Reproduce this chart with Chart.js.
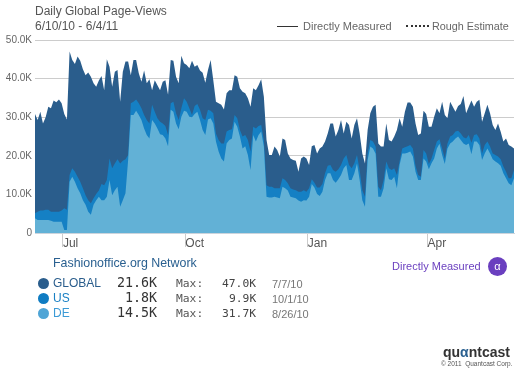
<!DOCTYPE html>
<html>
<head>
<meta charset="utf-8">
<script src="https://cdn.jsdelivr.net/npm/chart.js@4"></script>
<style>
html,body{margin:0;padding:0;background:#fff;}
#wrap{position:relative;width:522px;height:370px;overflow:hidden;font-family:"Liberation Sans",Arial,sans-serif;}
canvas{position:absolute;left:0;top:0;}
.t{position:absolute;white-space:nowrap;line-height:14px;}
.m{font-family:"DejaVu Sans Mono",monospace;}
.dot{position:absolute;border-radius:50%;width:11px;height:11px;}
</style>
</head>
<body>
<div id="wrap">
<canvas id="c" width="522" height="370"></canvas>
<div class="t" style="left:35px;top:4px;font-size:12px;color:#555;">Daily Global Page-Views</div>
<div class="t" style="left:35px;top:19px;font-size:12px;color:#555;">6/10/10 - 6/4/11</div>
<div style="position:absolute;left:277px;top:26px;width:21px;border-top:1px solid #333;"></div>
<div class="t" style="left:303px;top:19px;font-size:11px;color:#666;">Directly Measured</div>
<div style="position:absolute;left:406px;top:25px;width:23px;border-top:2px dotted #333;"></div>
<div class="t" style="left:432px;top:19px;font-size:10.8px;color:#666;">Rough Estimate</div>

<div class="t" style="left:53px;top:256px;font-size:12.4px;color:#2a6090;">Fashionoffice.org Network</div>

<div class="dot" style="left:38px;top:278px;background:#2a5d8c;"></div>
<div class="t" style="left:53px;top:276px;font-size:12px;color:#2a5d8c;">GLOBAL</div>
<div class="t m" style="left:117px;top:276px;font-size:13.3px;color:#333;">21.6K</div>
<div class="t m" style="left:176px;top:277px;font-size:11.3px;color:#555;">Max:</div>
<div class="t m" style="left:222px;top:277px;font-size:11.3px;color:#444;">47.0K</div>
<div class="t" style="left:272px;top:277px;font-size:11px;color:#777;">7/7/10</div>

<div class="dot" style="left:38px;top:293px;background:#0f7cc2;"></div>
<div class="t" style="left:53px;top:291px;font-size:12px;color:#1a80c4;">US</div>
<div class="t m" style="left:125px;top:291px;font-size:13.3px;color:#333;">1.8K</div>
<div class="t m" style="left:176px;top:292px;font-size:11.3px;color:#555;">Max:</div>
<div class="t m" style="left:229px;top:292px;font-size:11.3px;color:#444;">9.9K</div>
<div class="t" style="left:272px;top:292px;font-size:11px;color:#777;">10/1/10</div>

<div class="dot" style="left:38px;top:308px;background:#4fa5d6;"></div>
<div class="t" style="left:53px;top:306px;font-size:12px;color:#3b9ad6;">DE</div>
<div class="t m" style="left:117px;top:306px;font-size:13.3px;color:#333;">14.5K</div>
<div class="t m" style="left:176px;top:307px;font-size:11.3px;color:#555;">Max:</div>
<div class="t m" style="left:222px;top:307px;font-size:11.3px;color:#444;">31.7K</div>
<div class="t" style="left:272px;top:307px;font-size:11px;color:#777;">8/26/10</div>

<div class="t" style="left:392px;top:259px;font-size:11px;color:#6a3fbf;">Directly Measured</div>
<div style="position:absolute;left:488px;top:257px;width:19px;height:19px;border-radius:50%;background:#6a3fbf;color:#fff;font-size:11px;line-height:18px;text-align:center;">α</div>
<div class="t" style="left:443px;top:345px;font-size:14px;font-weight:bold;color:#333;">qu<span style="color:#2a6090;">α</span>ntcast</div>
<div class="t" style="left:441px;top:357px;font-size:6.5px;color:#555;">© 2011 &nbsp;Quantcast Corp.</div>
</div>
<script>
// Values in thousands of page-views, read every second day from 6/10/10.
const GLOBAL = [
30.8,29.3,31.4,28.4,30.0,32.7,32.3,34.3,33.9,34.6,33.6,30.8,29.4,47.0,44.8,43.8,45.7,44.6,42.4,40.9,41.6,40.5,38.8,37.9,39.5,40.7,37.0,45.0,43.1,37.9,41.8,42.2,34.0,41.8,44.4,44.4,40.9,44.8,44.8,41.4,39.2,42.1,38.8,39.8,37.0,39.6,
38.3,37.0,39.2,39.6,35.8,44.8,44.6,40.5,38.8,45.9,44.0,43.5,42.7,44.6,43.1,43.5,42.1,41.5,38.9,42.2,44.8,39.6,34.0,33.6,33.2,32.0,36.2,37.0,37.0,40.9,40.5,37.5,36.6,36.2,34.9,32.7,37.5,37.0,38.3,39.8,35.3,24.1,20.2,20.2,22.4,
21.5,19.8,24.5,24.1,20.6,19.3,18.9,18.7,15.9,19.3,19.8,19.3,17.6,22.5,22.8,20.6,21.9,22.4,23.7,25.8,28.4,28.4,25.0,26.7,29.3,25.8,28.8,28.0,24.5,28.0,29.7,25.8,20.6,18.0,26.7,31.0,32.7,33.2,23.2,22.4,22.4,28.4,24.1,23.7,25.0,
26.7,29.7,27.5,31.4,33.8,33.8,32.7,28.4,25.4,25.8,31.7,30.8,27.5,27.5,30.1,32.3,31.0,34.0,30.6,29.7,34.0,32.7,31.4,32.9,33.4,35.5,31.0,32.7,34.3,32.7,34.0,34.5,28.8,31.0,33.2,31.0,28.0,26.7,28.4,26.2,23.7,24.5,22.8,22.4,21.9];
// Upper edge of the US band, which sits on top of DE.
const US_ON_DE = [
5.1,5.5,5.8,5.8,6.0,6.0,5.5,5.5,5.5,5.5,5.8,6.4,6.0,15.0,16.8,15.9,14.6,13.3,11.6,9.8,8.5,7.7,9.0,10.1,11.0,12.7,12.4,13.7,19.3,16.8,18.0,19.1,18.0,18.7,19.1,20.2,33.6,34.0,34.6,33.6,32.3,30.6,29.3,28.4,33.2,31.4,
29.7,28.8,28.4,27.7,25.4,33.6,34.0,31.0,29.3,32.3,34.9,34.0,32.3,30.6,32.9,33.4,31.9,29.7,29.3,31.9,31.7,31.0,25.8,24.1,23.2,23.2,26.3,26.7,26.9,30.6,29.7,26.7,25.0,25.4,24.1,21.1,27.5,27.1,27.7,28.0,24.1,12.4,12.0,12.0,11.6,
11.6,11.6,14.2,13.7,12.9,11.6,11.3,11.1,10.7,10.7,11.1,10.7,11.6,13.9,13.0,11.8,11.8,12.7,15.5,17.4,17.6,16.3,15.9,16.5,17.6,19.3,20.2,17.6,16.8,18.1,20.2,16.3,11.1,9.4,20.6,24.1,23.7,22.4,12.0,11.1,13.7,18.5,16.8,16.3,16.8,
15.0,18.5,21.9,22.2,22.5,22.8,21.9,17.4,15.0,14.6,21.5,20.6,17.9,19.3,21.5,23.7,24.3,21.9,19.3,23.2,25.0,25.4,26.3,26.5,25.8,24.8,24.5,25.4,23.4,25.4,25.6,24.5,20.6,22.8,23.7,22.4,20.6,20.2,19.8,19.1,17.2,15.9,14.2,14.2,16.3];
const DE = [
3.8,3.4,3.4,3.4,3.4,3.4,3.2,2.9,2.9,2.9,2.9,0.8,0.8,13.3,14.6,13.3,11.6,10.3,8.5,7.3,5.5,4.7,7.3,8.5,9.4,8.5,8.5,9.4,13.7,9.8,11.1,12.0,6.8,8.5,10.3,18.9,30.6,30.6,31.7,30.6,29.3,27.1,25.4,24.5,29.3,28.4,
27.1,25.6,25.4,24.5,22.5,31.9,31.4,28.4,26.9,30.1,31.7,31.4,30.1,30.0,30.8,31.4,29.3,26.7,25.4,29.4,29.7,28.4,23.7,21.1,19.3,18.5,23.2,24.1,24.5,28.8,27.5,25.0,21.9,22.5,20.2,16.3,25.4,23.7,25.4,26.3,22.4,9.4,9.2,9.2,9.4,
9.2,9.0,12.0,11.6,11.0,9.4,9.2,9.0,8.4,8.1,8.5,8.4,9.4,12.7,11.8,10.1,9.6,10.7,13.7,15.5,15.5,13.7,13.0,13.9,15.0,16.8,17.6,13.7,13.7,15.5,18.0,13.7,8.5,6.8,18.9,22.4,21.9,20.5,9.4,9.4,11.6,16.8,13.9,13.7,14.6,
11.6,17.6,20.6,20.6,20.8,21.1,19.8,15.9,13.7,13.7,19.3,18.5,16.5,18.1,19.3,21.9,23.1,20.2,17.9,21.9,23.2,23.7,24.5,25.0,24.1,23.2,22.8,23.2,20.4,23.7,23.7,22.8,18.9,20.6,21.9,20.6,19.1,18.5,18.1,17.4,15.5,14.2,12.9,12.4,14.2];
const SAMPLE_STEP_DAYS = 2;
const MONTH_DAYS = [21, 113, 205, 295];
const MONTH_LABELS = ['Jul', 'Oct', 'Jan', 'Apr'];
const Y_TICKS = [0, 10, 20, 30, 40, 50];

const toPoints = a => a.map((v, i) => ({x: i * SAMPLE_STEP_DAYS, y: v}));
const area = (label, data, color) => ({
  label, data: toPoints(data), parsing: false,
  borderWidth: 0, pointRadius: 0, tension: 0, fill: 'origin', backgroundColor: color
});
new Chart(document.getElementById('c'), {
  type: 'line',
  data: {datasets: [
    area('DE', DE, '#62b1d6'),
    area('US', US_ON_DE, '#1580c4'),
    area('GLOBAL', GLOBAL, '#2a5d8c')
  ]},
  options: {
    responsive: false, animation: false, events: [],
    layout: {padding: {top: 40, right: 8, bottom: 117, left: 0}},
    plugins: {legend: {display: false}, tooltip: {enabled: false}, title: {display: false}},
    scales: {
      x: {
        type: 'linear', min: 0, max: 360,
        afterBuildTicks: s => { s.ticks = MONTH_DAYS.map(v => ({value: v})); },
        afterFit: s => { s.height = 20; },
        grid: {drawOnChartArea: false, drawTicks: true, tickLength: 14, color: '#ccc'},
        border: {color: '#ccd4dc'},
        ticks: {
          autoSkip: false, maxRotation: 0, align: 'start', padding: -11,
          color: '#555', font: {family: '"Liberation Sans"', size: 12},
          callback: v => MONTH_LABELS[MONTH_DAYS.indexOf(v)]
        }
      },
      y: {
        min: 0, max: 50,
        afterBuildTicks: s => { s.ticks = Y_TICKS.map(v => ({value: v})); },
        afterFit: s => { s.width = 35; },
        grid: {color: '#ccc', drawTicks: false},
        border: {display: false},
        ticks: {
          padding: 3, color: '#666', font: {family: '"Liberation Sans"', size: 10},
          callback: v => v === 0 ? '0' : v.toFixed(1) + 'K'
        }
      }
    }
  }
});
</script>
</body>
</html>
